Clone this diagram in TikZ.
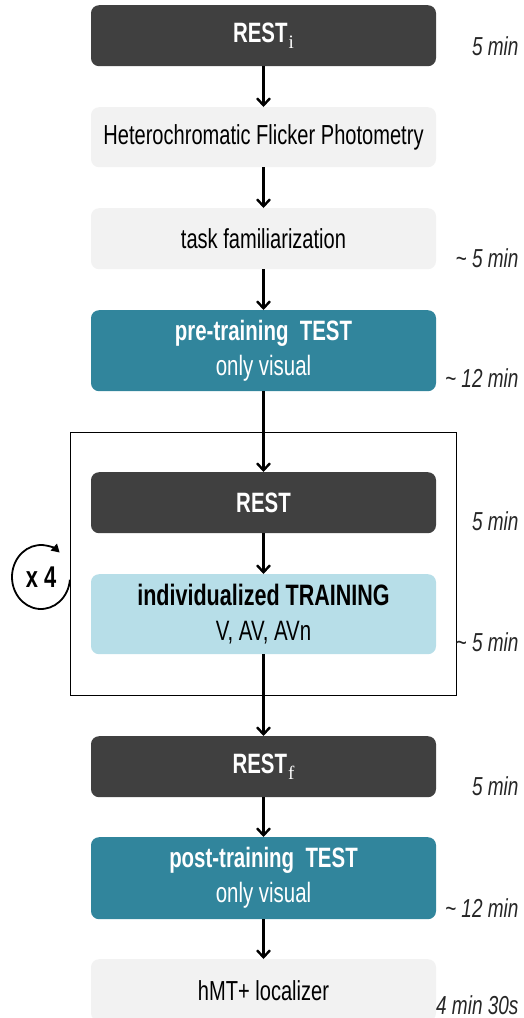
\documentclass[tikz,border=0pt]{standalone}
\usepackage{fontspec}
\setmainfont{Liberation Sans}[FakeStretch=0.73]
\newfontfamily\subfont{Liberation Serif}
\usetikzlibrary{arrows.meta}
\definecolor{darkbox}{HTML}{404040}
\definecolor{lightbox}{HTML}{F2F2F2}
\definecolor{tealbox}{HTML}{31859C}
\definecolor{paleblue}{HTML}{B7DEE8}
\newcommand{\lowsub}[1]{\kern1pt\raisebox{-6.5pt}{\fontsize{19}{19}\selectfont\subfont\mdseries #1}}
\tikzset{
  stepbox/.style={rounded corners=8pt, minimum width=345pt, inner sep=0pt, align=center, anchor=north},
  darkstep/.style={stepbox, fill=darkbox, text=white, font=\fontsize{28}{33}\selectfont\bfseries},
  lightstep/.style={stepbox, fill=lightbox, text=black, font=\fontsize{27.5}{33}\selectfont},
  tealstep/.style={stepbox, fill=tealbox, text=white, font=\fontsize{28}{35}\selectfont},
  bluestep/.style={stepbox, fill=paleblue, text=black, font=\fontsize{28}{35}\selectfont},
  flow/.style={-{Straight Barb[length=7pt,width=13pt,line width=2.4pt]}, line width=2.4pt, black},
  timelbl/.style={anchor=east, font=\fontsize{26}{28}\selectfont\itshape, text=black!85}
}
\begin{document}
\begin{tikzpicture}[x=1pt,y=-1pt]
\useasboundingbox (0,0) rectangle (523,1018);
% frame
\node[draw=black, line width=1pt, minimum width=386pt, minimum height=263pt, anchor=north west, inner sep=0pt] (frame) at (70,432) {};
% boxes
\node[darkstep, minimum height=61pt] (resti) at (263.5,5) {REST\lowsub{i}};
\node[lightstep, minimum height=60pt] (hfp) at (263.5,107) {Heterochromatic Flicker Photometry};
\node[lightstep, minimum height=61pt] (fam) at (263.5,208) {task familiarization};
\node[tealstep, minimum height=81pt] (pre) at (263.5,310) {\textbf{pre-training\ \ TEST}\\only visual};
\node[darkstep, minimum height=61pt] (rest) at (263.5,472) {REST};
\node[bluestep, minimum height=80pt] (train) at (263.5,574) {{\fontsize{29.5}{35}\selectfont\textbf{individualized TRAINING}}\\V, AV, AVn};
\node[darkstep, minimum height=61pt] (restf) at (263.5,736) {REST\lowsub{f}};
\node[tealstep, minimum height=82pt] (post) at (263.5,837) {\textbf{post-training\ \ TEST}\\only visual};
\node[lightstep, minimum height=62pt] (hmt) at (263.5,959) {hMT+ localizer};
% connectors
\draw[flow] (resti.south) -- (hfp.north);
\draw[flow] (hfp.south) -- (fam.north);
\draw[flow] (fam.south) -- (pre.north);
\draw[flow] (pre.south) -- (rest.north);
\draw[flow] (rest.south) -- (train.north);
\draw[flow] (train.south) -- (restf.north);
\draw[flow] (restf.south) -- (post.north);
\draw[flow] (post.south) -- (hmt.north);
% loop
\coordinate (loopc) at (41,577);
\node[font=\fontsize{30}{34}\selectfont\bfseries] (x4) at (loopc) {x 4};
\draw[-{Triangle[length=8pt,width=9pt]}, line width=1.8pt] (loopc) ++(-5:29pt and 32pt) arc[start angle=-5, end angle=-310, x radius=29pt, y radius=32pt];
% times
\node[timelbl] (t1) at (522,46) {5 min};
\node[timelbl] (t2) at (522,258) {\textasciitilde{} 5 min};
\node[timelbl] (t3) at (522,378) {\textasciitilde{} 12 min};
\node[timelbl] (t4) at (522,521) {5 min};
\node[timelbl] (t5) at (522,642) {\textasciitilde{} 5 min};
\node[timelbl] (t6) at (522,786) {5 min};
\node[timelbl] (t7) at (522,908) {\textasciitilde{} 12 min};
\node[timelbl] (t8) at (522,1005) {4 min 30s};
\end{tikzpicture}
\end{document}
